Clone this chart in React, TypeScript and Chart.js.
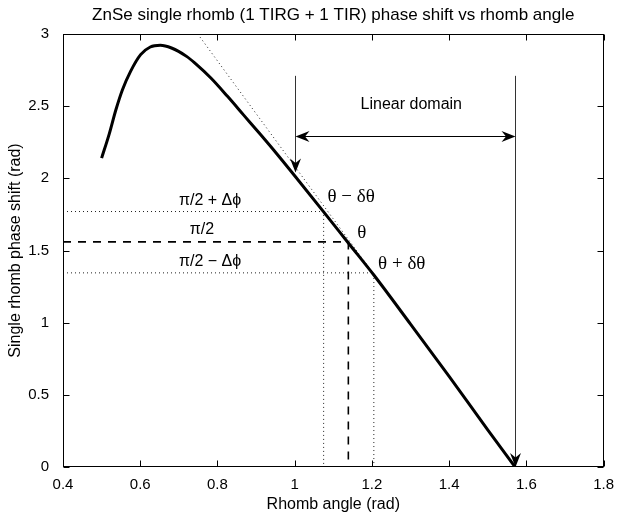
import { useEffect, useRef } from "react";
import { Chart, registerables } from "chart.js";

Chart.register(...registerables);

const TITLE = "ZnSe single rhomb (1 TIRG + 1 TIR) phase shift vs rhomb angle";
const X_TITLE = "Rhomb angle (rad)";
const Y_TITLE = "Single rhomb phase shift (rad)";

const X_TICKS = [0.4, 0.6, 0.8, 1, 1.2, 1.4, 1.6, 1.8];
const X_TICK_LABELS = ["0.4", "0.6", "0.8", "1", "1.2", "1.4", "1.6", "1.8"];
const Y_TICKS = [0, 0.5, 1, 1.5, 2, 2.5, 3];
const Y_TICK_LABELS = ["0", "0.5", "1", "1.5", "2", "2.5", "3"];

// Phase shift curve (rad) vs rhomb angle (rad)
const ANGLE = [0.5, 0.52, 0.537, 0.554, 0.575, 0.601, 0.626, 0.652, 0.681, 0.72, 0.741, 0.783, 0.826, 0.868, 0.911, 0.953, 1.0, 1.075, 1.139, 1.205, 1.3, 1.4, 1.5, 1.5708];
const PHASE = [2.14, 2.31, 2.475, 2.614, 2.741, 2.857, 2.91, 2.922, 2.903, 2.845, 2.8, 2.695, 2.568, 2.438, 2.305, 2.172, 2.018, 1.768, 1.552, 1.33, 0.99, 0.628, 0.258, 0];

// Linear (tangent) fit, dotted
const TANGENT_ANGLE = [0.749, 1.5708];
const TANGENT_PHASE = [3, 0];

// Operating point and tolerance
const THETA = 1.139;
const THETA_MINUS = 1.075;
const THETA_PLUS = 1.205;
const PHASE_MID = 1.56;
const PHASE_PLUS = 1.77;
const PHASE_MINUS = 1.345;

// Linear domain guides
const LINEAR_START = 1.0;
const LINEAR_END = 1.5708;
const GUIDE_TOP = 2.71;
const START_TIP = 2.04;
const DOMAIN_Y = 2.295;

const SANS_LABELS = [
  { text: "π/2 + Δϕ", x: 0.781, y: 1.846 },
  { text: "π/2", x: 0.76, y: 1.643 },
  { text: "π/2 − Δϕ", x: 0.781, y: 1.423 },
  { text: "Linear domain", x: 1.302, y: 2.51 },
];
const SERIF_LABELS = [
  { text: "θ − δθ", x: 1.085, y: 1.874 },
  { text: "θ", x: 1.162, y: 1.622 },
  { text: "θ + δθ", x: 1.216, y: 1.406 },
];

const SANS = "'Liberation Sans', Arial, Helvetica, sans-serif";
const SERIF = "'Liberation Serif', 'Times New Roman', serif";

function arrowHead(ctx: CanvasRenderingContext2D, tx: number, ty: number, dx: number, dy: number) {
  const len = 14, half = 5.5, notch = 4.5;
  const px = -dy, py = dx;
  const bx = tx - dx * len, by = ty - dy * len;
  ctx.beginPath();
  ctx.moveTo(tx, ty);
  ctx.lineTo(bx + px * half, by + py * half);
  ctx.lineTo(tx - dx * (len - notch), ty - dy * (len - notch));
  ctx.lineTo(bx - px * half, by - py * half);
  ctx.closePath();
  ctx.fill();
}

const annotPlugin = {
  id: "annot",
  afterDraw(chart: any) {
    const { ctx, chartArea: a, scales } = chart;
    const xs = scales.x, ys = scales.y;
    const X = (v: number) => xs.getPixelForValue(v);
    const Y = (v: number) => ys.getPixelForValue(v);
    ctx.save();
    // box
    ctx.strokeStyle = "#000";
    ctx.lineWidth = 1;
    const L = Math.round(a.left) + 0.5, R = Math.round(a.right) - 0.5;
    const T = Math.round(a.top) + 0.5, B = Math.round(a.bottom) - 0.5;
    ctx.strokeRect(L, T, R - L, B - T);
    // inward ticks
    const tl = 6;
    ctx.beginPath();
    X_TICKS.forEach((v) => {
      const p = Math.round(X(v)) + 0.5;
      ctx.moveTo(p, B); ctx.lineTo(p, B - tl);
      ctx.moveTo(p, T); ctx.lineTo(p, T + tl);
    });
    Y_TICKS.forEach((v) => {
      const p = Math.round(Y(v)) + 0.5;
      ctx.moveTo(L, p); ctx.lineTo(L + tl, p);
      ctx.moveTo(R, p); ctx.lineTo(R - tl, p);
    });
    ctx.stroke();

    // guide lines with arrows
    ctx.strokeStyle = "#333";
    ctx.fillStyle = "#000";
    ctx.lineWidth = 1;
    const x1 = Math.round(X(LINEAR_START)) + 0.5;
    const x2 = Math.round(X(LINEAR_END)) + 0.5;
    const yTop = Y(GUIDE_TOP);
    const yTip = Y(START_TIP);
    const yBot = Y(0);
    const yd = Math.round(Y(DOMAIN_Y)) + 0.5;
    ctx.beginPath();
    ctx.moveTo(x1, yTop); ctx.lineTo(x1, yTip - 4);
    ctx.moveTo(x2, yTop); ctx.lineTo(x2, yBot - 4);
    ctx.stroke();
    ctx.strokeStyle = "#000";
    ctx.beginPath();
    ctx.moveTo(x1 + 4, yd); ctx.lineTo(x2 - 4, yd);
    ctx.stroke();
    arrowHead(ctx, x1, yTip, 0, 1);
    arrowHead(ctx, x2, yBot, 0, 1);
    arrowHead(ctx, x1, yd, -1, 0);
    arrowHead(ctx, x2, yd, 1, 0);

    // labels
    ctx.fillStyle = "#000";
    ctx.textBaseline = "middle";
    ctx.textAlign = "center";
    ctx.font = `16px ${SANS}`;
    SANS_LABELS.forEach((l) => ctx.fillText(l.text, X(l.x), Y(l.y)));
    ctx.textAlign = "left";
    ctx.font = `19px ${SERIF}`;
    SERIF_LABELS.forEach((l) => ctx.fillText(l.text, X(l.x), Y(l.y)));

    // title
    ctx.textAlign = "center";
    ctx.font = `17px ${SANS}`;
    ctx.fillText(TITLE, (a.left + a.right) / 2, 15);
    ctx.restore();
  },
};

export default function App() {
  const ref = useRef<HTMLCanvasElement | null>(null);
  useEffect(() => {
    if (!ref.current) return;
    const pts = (xs: number[], ys: number[]) => xs.map((x, i) => ({ x, y: ys[i] }));
    const dotted = { showLine: true, borderColor: "#222", borderWidth: 1, borderDash: [1, 3], pointRadius: 0 };
    const chart = new Chart(ref.current, {
      type: "scatter",
      data: {
        datasets: [
          {
            label: "phase shift",
            data: pts(ANGLE, PHASE),
            showLine: true,
            borderColor: "#000",
            borderWidth: 3,
            pointRadius: 0,
            cubicInterpolationMode: "monotone",
          } as any,
          { label: "tangent", data: pts(TANGENT_ANGLE, TANGENT_PHASE), ...dotted },
          { label: "upper", data: pts([0.4, THETA_MINUS, THETA_MINUS], [PHASE_PLUS, PHASE_PLUS, 0]), ...dotted },
          { label: "lower", data: pts([0.4, THETA_PLUS, THETA_PLUS], [PHASE_MINUS, PHASE_MINUS, 0]), ...dotted },
          {
            label: "mid",
            data: pts([0.4, THETA, THETA], [PHASE_MID, PHASE_MID, 0]),
            showLine: true,
            borderColor: "#000",
            borderWidth: 1.6,
            borderDash: [8, 7],
            pointRadius: 0,
          },
        ],
      },
      options: {
        responsive: false,
        animation: false,
        layout: { padding: { top: 34, right: 11, left: 0, bottom: 0 } },
        plugins: { legend: { display: false }, tooltip: { enabled: false }, title: { display: false } },
        scales: {
          x: {
            type: "linear",
            min: 0.4,
            max: 1.8,
            afterBuildTicks: (s: any) => { s.ticks = X_TICKS.map((v) => ({ value: v })); },
            afterFit: (s: any) => { s.height = 47; },
            ticks: {
              color: "#000",
              font: { family: SANS, size: 15 },
              padding: 9,
              maxRotation: 0,
              autoSkip: false,
              callback: (v: any) => X_TICK_LABELS[X_TICKS.findIndex((t) => Math.abs(t - v) < 1e-6)] ?? "",
            },
            grid: { display: false, drawTicks: false },
            border: { display: false },
            title: { display: true, text: X_TITLE, color: "#000", font: { family: SANS, size: 16, lineHeight: 1 }, padding: { top: 0, bottom: 1 } },
          },
          y: {
            type: "linear",
            min: 0,
            max: 3,
            afterBuildTicks: (s: any) => { s.ticks = Y_TICKS.map((v) => ({ value: v })); },
            afterFit: (s: any) => { s.width = 63; },
            ticks: {
              color: "#000",
              font: { family: SANS, size: 15 },
              padding: 14,
              autoSkip: false,
              callback: (v: any) => Y_TICK_LABELS[Y_TICKS.findIndex((t) => Math.abs(t - v) < 1e-6)] ?? "",
            },
            grid: { display: false, drawTicks: false },
            border: { display: false },
            title: { display: true, text: Y_TITLE, color: "#000", font: { family: SANS, size: 16, lineHeight: 1 }, padding: { top: 8, bottom: 0 } },
          },
        },
      },
      plugins: [annotPlugin],
    });
    return () => chart.destroy();
  }, []);
  return (
    <div style={{ position: "fixed", left: 0, top: 0, width: 623, height: 514, background: "#fff" }}>
      <canvas ref={ref} width={623} height={514} style={{ display: "block" }} />
    </div>
  );
}
